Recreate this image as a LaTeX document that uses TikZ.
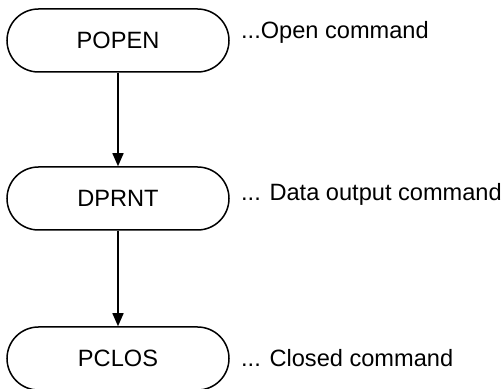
\documentclass[tikz,border=0pt]{standalone}
\usepackage{fontspec}
\setmainfont{Liberation Sans}
\usetikzlibrary{arrows.meta,shapes.misc,positioning}

\begin{document}
\begin{tikzpicture}[x=0.5pt,y=-0.5pt,
    cmd/.style={draw, line width=0.75pt, rounded rectangle, minimum width=111pt, minimum height=31.5pt, inner sep=0pt},
    note/.style={inner sep=0pt, anchor=west},
    flow/.style={-{Triangle[length=6.5pt,width=5.5pt]}, line width=0.75pt}]
  \useasboundingbox (0,0) rectangle (504,389);
  \fontsize{11.8}{14}\selectfont

  \node[cmd] (popen) at (118,40.5) {POPEN};
  \node[cmd] (dprnt) at (118,198.5) {DPRNT};
  \node[cmd] (pclos) at (118,358.5) {PCLOS};

  \node[note, right=5.5pt of popen.east, yshift=4pt] (popennote) {...Open command};
  \node[note, right=5.5pt of dprnt.east, yshift=2pt] (dprntnote) {... Data output command};
  \node[note, right=5.5pt of pclos.east] (pclosnote) {... Closed command};

  \draw[flow] (popen.south) -- (dprnt.north);
  \draw[flow] (dprnt.south) -- (pclos.north);
\end{tikzpicture}
\end{document}
